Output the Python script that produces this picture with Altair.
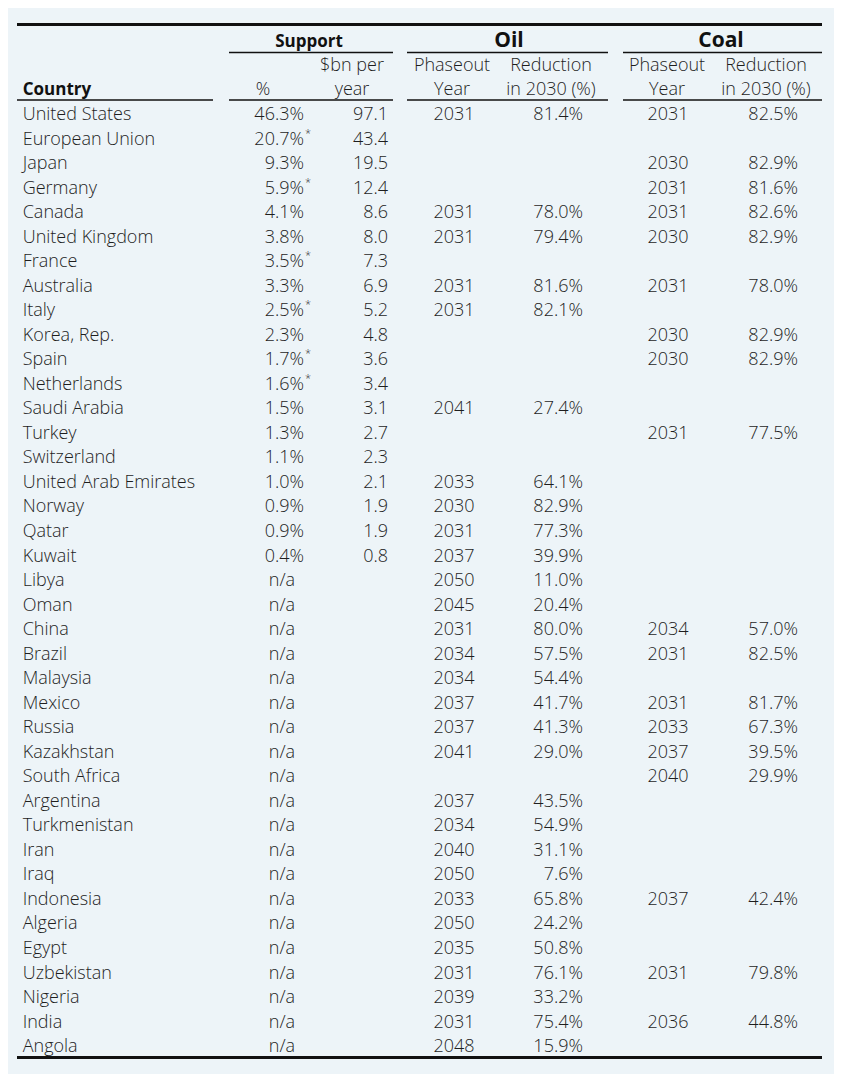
import altair as alt
import pandas as pd

# ---------------- data ----------------
countries = ["United States", "European Union", "Japan", "Germany", "Canada",
             "United Kingdom", "France", "Australia", "Italy", "Korea, Rep.",
             "Spain", "Netherlands", "Saudi Arabia", "Turkey", "Switzerland",
             "United Arab Emirates", "Norway", "Qatar", "Kuwait", "Libya",
             "Oman", "China", "Brazil", "Malaysia", "Mexico", "Russia",
             "Kazakhstan", "South Africa", "Argentina", "Turkmenistan", "Iran",
             "Iraq", "Indonesia", "Algeria", "Egypt", "Uzbekistan", "Nigeria",
             "India", "Angola"]
N = None
support_pct = [46.3, 20.7, 9.3, 5.9, 4.1, 3.8, 3.5, 3.3, 2.5, 2.3, 1.7, 1.6,
               1.5, 1.3, 1.1, 1.0, 0.9, 0.9, 0.4] + [N] * 20
support_star = [False, True, False, True, False, False, True, False, True,
                False, True, True] + [False] * 27
support_bn = [97.1, 43.4, 19.5, 12.4, 8.6, 8.0, 7.3, 6.9, 5.2, 4.8, 3.6, 3.4,
              3.1, 2.7, 2.3, 2.1, 1.9, 1.9, 0.8] + [N] * 20
oil_year = [2031, N, N, N, 2031, 2031, N, 2031, 2031, N, N, N, 2041, N, N,
            2033, 2030, 2031, 2037, 2050, 2045, 2031, 2034, 2034, 2037, 2037,
            2041, N, 2037, 2034, 2040, 2050, 2033, 2050, 2035, 2031, 2039,
            2031, 2048]
oil_red = [81.4, N, N, N, 78.0, 79.4, N, 81.6, 82.1, N, N, N, 27.4, N, N,
           64.1, 82.9, 77.3, 39.9, 11.0, 20.4, 80.0, 57.5, 54.4, 41.7, 41.3,
           29.0, N, 43.5, 54.9, 31.1, 7.6, 65.8, 24.2, 50.8, 76.1, 33.2,
           75.4, 15.9]
coal_year = [2031, N, 2030, 2031, 2031, 2030, N, 2031, N, 2030, 2030, N, N,
             2031, N, N, N, N, N, N, N, 2034, 2031, N, 2031, 2033, 2037, 2040,
             N, N, N, N, 2037, N, N, 2031, N, 2036, N]
coal_red = [82.5, N, 82.9, 81.6, 82.6, 82.9, N, 78.0, N, 82.9, 82.9, N, N,
            77.5, N, N, N, N, N, N, N, 57.0, 82.5, N, 81.7, 67.3, 39.5, 29.9,
            N, N, N, N, 42.4, N, N, 79.8, N, 44.8, N]

group_headers = ["Support", "Oil", "Coal"]
sub_headers_1 = ["$bn per", "Phaseout", "Reduction", "Phaseout", "Reduction"]
sub_headers_2 = ["%", "year", "Year", "in 2030 (%)", "Year", "in 2030 (%)"]

# ---------------- layout (pixel positions of table columns) ----------------
W, H = 826, 1066
ROW_H = 24.53
FIRST_ROW_Y = 105
POS = {
    "country": 14.7, "pct": 296, "pct_na": 274, "bn": 380,
    "oil_year": 446, "oil_red": 575, "coal_year": 660, "coal_red": 790,
    "h_support": 301, "h_oil": 501, "h_coal": 713,
    "h_pct": 255, "h_bn": 344, "h_oy": 444, "h_or": 543, "h_cy": 659, "h_cr": 758,
}
d0 = -FIRST_ROW_Y / ROW_H
y_scale = alt.Scale(domain=[d0, d0 + H / ROW_H], range=[0, H], nice=False, zero=False)

FONT = "Open Sans"
FS = 18
TXT = "#1e1e1e"
DY = 2

# ---------------- tables ----------------
cells = []
for i, c in enumerate(countries):
    cells.append(dict(k=i, pos="country", text=c, al="left"))
    if support_pct[i] is not None:
        cells.append(dict(k=i, pos="pct", text=f"{support_pct[i]:.1f}%", al="right"))
    else:
        cells.append(dict(k=i, pos="pct_na", text="n/a", al="center"))
    if support_bn[i] is not None:
        cells.append(dict(k=i, pos="bn", text=f"{support_bn[i]:.1f}", al="right"))
    if oil_year[i] is not None:
        cells.append(dict(k=i, pos="oil_year", text=str(oil_year[i]), al="center"))
    if oil_red[i] is not None:
        cells.append(dict(k=i, pos="oil_red", text=f"{oil_red[i]:.1f}%", al="right"))
    if coal_year[i] is not None:
        cells.append(dict(k=i, pos="coal_year", text=str(coal_year[i]), al="center"))
    if coal_red[i] is not None:
        cells.append(dict(k=i, pos="coal_red", text=f"{coal_red[i]:.1f}%", al="right"))
cells = pd.DataFrame(cells)

stars = pd.DataFrame([dict(k=i, pos="pct", text="*")
                      for i, s in enumerate(support_star) if s])

sub = pd.DataFrame(
    [dict(k=-2, pos=p, text=t) for p, t in zip(["h_bn", "h_oy", "h_or", "h_cy", "h_cr"], sub_headers_1)] +
    [dict(k=-1, pos=p, text=t) for p, t in zip(["h_pct", "h_bn", "h_oy", "h_or", "h_cy", "h_cr"], sub_headers_2)]
)
grp = pd.DataFrame([dict(k=-3, pos=p, text=t, size=s, dy=d) for p, t, s, d in
                    zip(["h_support", "h_oil", "h_coal"], group_headers, [17, 21, 21], [2.5, 1.5, 1.5])])
country_hdr = pd.DataFrame([dict(k=-1, pos="country", text="Country")])

for df in (cells, stars, sub, grp, country_hdr):
    df["px"] = df["pos"].map(POS)


def krow(page_y):
    return (page_y - 8 - FIRST_ROW_Y) / ROW_H


rules = pd.DataFrame([
    dict(x0=9, x1=814, k=krow(24.5), w=3),
    dict(x0=221, x1=385, k=krow(52.5), w=1.5),
    dict(x0=399, x1=600, k=krow(52.5), w=1.5),
    dict(x0=615, x1=814, k=krow(52.5), w=1.5),
    dict(x0=9, x1=205, k=krow(100), w=1.5),
    dict(x0=221, x1=385, k=krow(100), w=1.5),
    dict(x0=399, x1=600, k=krow(100), w=1.5),
    dict(x0=615, x1=814, k=krow(100), w=1.5),
    dict(x0=9, x1=814, k=krow(1057.5), w=3),
])

X = alt.X("px:Q", scale=None, axis=None)
Y = alt.Y("k:Q", scale=y_scale, axis=None)


def text_layer(df, align, size=FS, weight=300, color=TXT, dy=DY, **kw):
    return alt.Chart(df).mark_text(
        align=align, baseline="middle", font=FONT, fontSize=size,
        fontWeight=weight, color=color, dy=dy, **kw
    ).encode(x=X, y=Y, text="text:N")


layers = []
for al in ["left", "right", "center"]:
    layers.append(text_layer(cells[cells.al == al], al))
layers.append(text_layer(stars, "left", size=11, dx=1, dy=-4))
layers.append(text_layer(sub, "center"))
for _, g in grp.iterrows():
    layers.append(text_layer(grp[grp.text == g.text], "center", size=int(g["size"]),
                             weight="bold", color="#111111", dy=float(g["dy"])))
layers.append(text_layer(country_hdr, "left", size=17, weight="bold", color="#111111"))
layers.append(alt.Chart(rules).mark_rule(color="#111111").encode(
    x=alt.X("x0:Q", scale=None, axis=None),
    x2="x1:Q",
    y=Y,
    strokeWidth=alt.StrokeWidth("w:Q", scale=None, legend=None),
))

chart = alt.layer(*layers).properties(
    width=W, height=H, autosize=alt.AutoSizeParams(type="none"), padding=0,
    background="#EDF4F8",
).configure_view(stroke=None)

chart.save("out.html", embed_options={"renderer": "svg", "actions": False})
